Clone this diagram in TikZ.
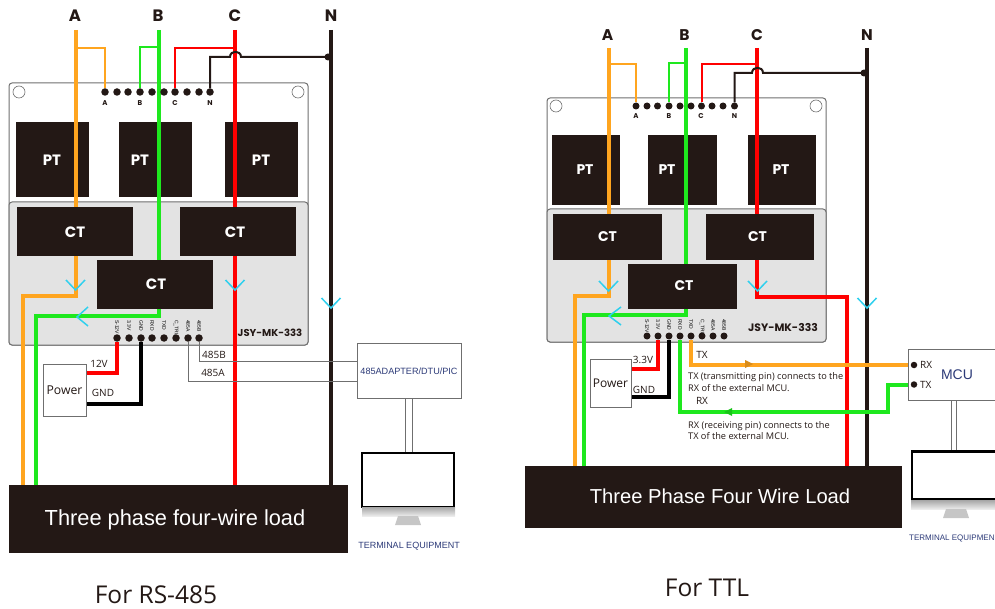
\documentclass[tikz,border=0pt]{standalone}
\usepackage{fontspec}
\setmainfont{Liberation Sans}
\newfontfamily\capfont{Open Sans}
\newfontfamily\labfont{Poppins}
\pgfdeclarelayer{back}
\pgfdeclarelayer{wire}
\pgfsetlayers{back,wire,main}
\definecolor{phaseA}{HTML}{FFA51F}
\definecolor{phaseB}{HTML}{1EE81E}
\definecolor{phaseC}{HTML}{FF0000}
\definecolor{ink}{HTML}{231815}
\definecolor{panel}{HTML}{E3E3E3}
\definecolor{edge}{HTML}{6F6F6F}
\definecolor{flow}{HTML}{2FD0EE}
\definecolor{navy}{HTML}{2C3A78}
\newcommand{\sz}[1]{\fontsize{#1}{#1}\selectfont}
\tikzset{
  blackbox/.style = {fill = ink, text = white, inner sep = 0pt, font = \labfont\sz{15}\bfseries},
  board/.style = {draw = edge, fill = white, rounded corners = 3pt, line width = 1pt},
  graybox/.style = {draw = edge, fill = panel, rounded corners = 3pt, line width = 1pt},
  hole/.style = {draw = edge, fill = white, circle, inner sep = 0pt, minimum size = 12pt, line width = .6pt},
  pindot/.style = {fill = ink, circle, inner sep = 0pt, minimum size = 7.5pt},
  pinlabel/.style = {inner sep = 0pt, anchor = west, rotate = -90, font = \sz{5}},
  toplabel/.style = {inner sep = 0pt, font = \labfont\sz{7}\bfseries, text = ink},
  phase/.style = {inner sep = 0pt, font = \labfont\sz{16.5}\bfseries, text = ink},
  thickwire/.style = {line width = 4pt, line join = miter},
  thinwire/.style = {line width = 2pt},
  signal/.style = {draw = edge, line width = .8pt},
  whitebox/.style = {draw = edge, fill = white, line width = 1pt, inner sep = 0pt},
  note/.style = {inner sep = 0pt, font = \capfont\sz{10}, text = ink},
  flowmark/.style = {draw = flow, line width = 1.5pt},
  screen/.style = {draw = black, fill = white, line width = 2.5pt, inner sep = 0pt},
  terminal/.style = {inner sep = 0pt, font = \sz{9}, text = navy},
  caption/.style = {inner sep = 0pt, font = \capfont\sz{24.5}, text = ink}
}
\begin{document}
\begin{tikzpicture}[x = 1pt, y = -1pt]
  \useasboundingbox (0,0) rectangle (995,609);
  \clip (0,0) rectangle (995,609);

  % RS-485 side
  \begin{pgfonlayer}{back}
    \node[board, minimum width = 299pt, minimum height = 262pt, inner sep = 0pt] (boardL) at (158.5,214) {};
    \node[graybox, minimum width = 299pt, minimum height = 143pt, inner sep = 0pt] (panelL) at (158.5,273.5) {};
    \node[hole] (holeLa) at (19,92) {};
    \node[hole] (holeLb) at (298,92) {};
    \node[blackbox, minimum width = 73pt, minimum height = 75pt] (ptLa) at (52,160) {};
    \node[blackbox, minimum width = 73pt, minimum height = 75pt] (ptLb) at (155.5,160) {};
    \node[blackbox, minimum width = 73pt, minimum height = 75pt] (ptLc) at (261,160) {};
  \end{pgfonlayer}
  \node[inner sep = 0pt, text = white, font = \labfont\sz{15}\bfseries] (ptLat) at (52,160) {PT};
  \node[inner sep = 0pt, text = white, font = \labfont\sz{15}\bfseries] (ptLbt) at (140,160) {PT};
  \node[inner sep = 0pt, text = white, font = \labfont\sz{15}\bfseries] (ptLct) at (261,160) {PT};
  \node[blackbox, minimum width = 116pt, minimum height = 49pt] (ctLa) at (75,232) {};
  \node[blackbox, minimum width = 116pt, minimum height = 49pt] (ctLb) at (155,284.5) {};
  \node[blackbox, minimum width = 116pt, minimum height = 49pt] (ctLc) at (238,232) {};
  \node[inner sep = 0pt, text = white, font = \labfont\sz{15}\bfseries] (ctLat) at (75,232) {CT};
  \node[inner sep = 0pt, text = white, font = \labfont\sz{15}\bfseries] (ctLbt) at (156,284.5) {CT};
  \node[inner sep = 0pt, text = white, font = \labfont\sz{15}\bfseries] (ctLct) at (235,232) {CT};
  \node[fill = ink, inner sep = 0pt, minimum width = 339pt, minimum height = 68pt] (loadL) at (178.5,519) {};
  \node[inner sep = 0pt, text = white, font = \sz{21.8}] (loadLt) at (175,520) {Three phase four-wire load};

  \node[phase] (nameLa) at (75,16) {A};
  \node[phase] (nameLb) at (158,16) {B};
  \node[phase] (nameLc) at (235,16) {C};
  \node[phase] (nameLn) at (331,16) {N};
  \foreach \x/\n in {105/1,117/2,128/3,140/4,152/5,164/6,175/7,187/8,199/9,210/10}
    \node[pindot] (topL\n) at (\x,92) {};
  \node[toplabel] (labLa) at (105,103) {A};
  \node[toplabel] (labLb) at (140,103) {B};
  \node[toplabel] (labLc) at (175,103) {C};
  \node[toplabel] (labLn) at (210,103) {N};
  \foreach \x/\n/\t in {117/1/S-12V,129/2/3.3V,141/3/GND,152/4/RXD,164/5/TXD,176/6/C\_TRL,188/7/485A,199/8/485B} {
    \node[pindot] (botL\n) at (\x,338) {};
    \node[pinlabel] (botLt\n) at (\x,320) {\t};
  }
  \node[inner sep = 0pt, text = ink, font = \labfont\sz{10}\bfseries] (modelL) at (270,333) {JSY-MK-333};

  \node[whitebox, minimum width = 43pt, minimum height = 52pt, font = \capfont\sz{12.2}, text = ink] (powerL) at (64.5,390) {Power};
  \node[note] (l12) at (99,364) {12V};
  \node[note] (lgnd) at (103,392.5) {GND};
  \node[note] (l485b) at (214,355) {485B};
  \node[note] (l485a) at (213,373) {485A};
  \node[whitebox, minimum width = 104pt, minimum height = 55pt, font = \sz{9.1}, text = navy] (adapter) at (409,371) {485ADAPTER/DTU/PIC};
  \node[screen, minimum width = 92pt, minimum height = 54pt] (screenL) at (408,480) {};
  \fill[top color = gray!70, bottom color = gray!15] (362,507) rectangle (455,516);
  \fill[gray!45] (398,516) -- (418,516) -- (421,525) -- (395,525) -- cycle;
  \node[terminal] (termL) at (409,546) {TERMINAL EQUIPMENT};
  \node[caption] (capL) at (156,595) {For RS-485};

  \coordinate (topLa) at (75.5,30);
  \coordinate (topLb) at (158.5,30);
  \coordinate (topLc) at (235,30);
  \coordinate (topLn) at (331,30);
  \coordinate (tapLa) at (75.5,48);
  \coordinate (tapLb) at (158.5,47);
  \coordinate (tapLc) at (235,48);
  \coordinate (tapLn) at (331,57);
  \coordinate (hopLa) at (241,57);
  \coordinate (hopLb) at (230,57);
  \coordinate (bendLa) at (75.5,296);
  \coordinate (bendLb) at (158.5,316);
  \coordinate (endLa) at (23,486);
  \coordinate (endLb) at (36,486);
  \coordinate (endLc) at (235,486);
  \coordinate (endLn) at (331,486);
  \node[fill = ink, circle, inner sep = 0pt, minimum size = 7pt] (nodeLn) at (328,57) {};

  \begin{pgfonlayer}{wire}
    \draw[thickwire, phaseA] (topLa) -- (bendLa) -| (endLa);
    \draw[thickwire, phaseB] (topLb) -- (bendLb) -| (endLb);
    \draw[thickwire, phaseC] (topLc) -- (endLc);
    \draw[thickwire, ink] (topLn) -- (endLn);
    \draw[thinwire, phaseA] (tapLa) -| (topL1);
    \draw[thinwire, phaseB] (tapLb) -| (topL4);
    \draw[thinwire, phaseC] (tapLc) -| (topL7);
    \draw[thinwire, ink] (tapLn) -- (hopLa) .. controls +(0,-7) and +(0,-7) .. (hopLb) -| (topL10);
    \draw[thickwire, phaseC] (botL1) |- (powerL.east |- 0,372.5);
    \draw[thickwire, black] (botL3) |- (powerL.east |- 0,404);
    \draw[signal] (botL7) |- (adapter.west |- 0,381);
    \draw[signal] (botL8) |- (adapter.west |- 0,361);
    \draw[signal] ([xshift = -3.5pt]adapter.south) -- ([xshift = -3.5pt]adapter.south |- screenL.north);
    \draw[signal] ([xshift = 3pt]adapter.south) -- ([xshift = 3pt]adapter.south |- screenL.north);
  \end{pgfonlayer}

  % TTL side
  \begin{pgfonlayer}{back}
    \node[board, minimum width = 279pt, minimum height = 244pt, inner sep = 0pt] (boardR) at (686.5,220) {};
    \node[graybox, minimum width = 279pt, minimum height = 133pt, inner sep = 0pt] (panelR) at (686.5,275.5) {};
    \node[hole] (holeRa) at (556,106) {};
    \node[hole] (holeRb) at (816,106) {};
    \node[blackbox, minimum width = 68.5pt, minimum height = 70pt] (ptRa) at (586,170) {};
    \node[blackbox, minimum width = 68.5pt, minimum height = 70pt] (ptRb) at (682.5,170) {};
    \node[blackbox, minimum width = 68.5pt, minimum height = 70pt] (ptRc) at (782,170) {};
  \end{pgfonlayer}
  \node[inner sep = 0pt, text = white, font = \labfont\sz{14}\bfseries] (ptRat) at (585,170) {PT};
  \node[inner sep = 0pt, text = white, font = \labfont\sz{14}\bfseries] (ptRbt) at (667,170) {PT};
  \node[inner sep = 0pt, text = white, font = \labfont\sz{14}\bfseries] (ptRct) at (781,170) {PT};
  \node[blackbox, minimum width = 109pt, minimum height = 46pt] (ctRa) at (607.5,237) {};
  \node[blackbox, minimum width = 109pt, minimum height = 45pt] (ctRb) at (682.5,286.5) {};
  \node[blackbox, minimum width = 108pt, minimum height = 46pt] (ctRc) at (760,237) {};
  \node[inner sep = 0pt, text = white, font = \labfont\sz{14}\bfseries] (ctRat) at (607.5,237) {CT};
  \node[inner sep = 0pt, text = white, font = \labfont\sz{14}\bfseries] (ctRbt) at (684,286) {CT};
  \node[inner sep = 0pt, text = white, font = \labfont\sz{14}\bfseries] (ctRct) at (757.5,237) {CT};
  \node[fill = ink, inner sep = 0pt, minimum width = 377pt, minimum height = 62pt] (loadR) at (713.5,497) {};
  \node[inner sep = 0pt, text = white, font = \sz{20.2}] (loadRt) at (720,496) {Three Phase Four Wire Load};

  \node[phase, font = \labfont\sz{15.5}\bfseries] (nameRa) at (607.5,35) {A};
  \node[phase, font = \labfont\sz{15.5}\bfseries] (nameRb) at (684.5,35) {B};
  \node[phase, font = \labfont\sz{15.5}\bfseries] (nameRc) at (757,35) {C};
  \node[phase, font = \labfont\sz{15.5}\bfseries] (nameRn) at (867,35) {N};
  \foreach \x/\n in {636/1,647/2,657.5/3,669/4,680/5,691/6,701.5/7,712/8,723/9,734.5/10}
    \node[pindot, minimum size = 7pt] (topR\n) at (\x,106) {};
  \node[toplabel] (labRa) at (636,116) {A};
  \node[toplabel] (labRb) at (669,116) {B};
  \node[toplabel] (labRc) at (701,116) {C};
  \node[toplabel] (labRn) at (734.5,116) {N};
  \foreach \x/\n/\t in {647/1/S-12V,658/2/3.3V,669/3/GND,680/4/RXD,691/5/TXD,702/6/C\_TRL,713/7/485A,724/8/485B} {
    \node[pindot, minimum size = 7pt] (botR\n) at (\x,336) {};
    \node[pinlabel] (botRt\n) at (\x,319) {\t};
  }
  \node[inner sep = 0pt, text = ink, font = \labfont\sz{10.8}\bfseries] (modelR) at (783,328) {JSY-MK-333};

  \node[whitebox, minimum width = 41pt, minimum height = 48pt, font = \capfont\sz{12}, text = ink] (powerR) at (610.5,383) {Power};
  \node[note] (l33) at (643,360) {3.3V};
  \node[note] (rgnd) at (644,389.5) {GND};
  \node[note] (ltx) at (702,355) {TX};
  \node[note] (lrx) at (702,401) {RX};
  \node[note, anchor = west, align = left, font = \capfont\fontsize{9.2}{11.5}\selectfont] (notetx) at (688,382) {TX (transmitting pin) connects to the\\RX of the external MCU.};
  \node[note, anchor = west, align = left, font = \capfont\fontsize{9.2}{11.5}\selectfont] (noterx) at (688,430.5) {RX (receiving pin) connects to the\\TX of the external MCU.};
  \node[whitebox, minimum width = 98pt, minimum height = 51pt, font = \sz{14}, text = navy] (mcu) at (957,374.5) {MCU};
  \node[fill = ink, circle, inner sep = 0pt, minimum size = 6.5pt] (mcurx) at (914,365) {};
  \node[fill = ink, circle, inner sep = 0pt, minimum size = 6.5pt] (mcutx) at (914,384.5) {};
  \node[note, anchor = west] (lmrx) at (920,365) {RX};
  \node[note, anchor = west] (lmtx) at (920,385) {TX};
  \node[screen, minimum width = 92pt, minimum height = 48pt] (screenR) at (958,475.5) {};
  \fill[top color = gray!70, bottom color = gray!15] (911,500) rectangle (995,509);
  \fill[gray!45] (946,509) -- (966,509) -- (969,518) -- (943,518) -- cycle;
  \node[terminal, anchor = west, font = \sz{8}] (termR) at (909,538) {TERMINAL EQUIPMEN};
  \node[caption] (capR) at (707,588) {For TTL};

  \coordinate (topRa) at (608.5,48);
  \coordinate (topRb) at (685.5,48);
  \coordinate (topRc) at (757,48);
  \coordinate (topRn) at (867,48);
  \coordinate (tapRa) at (608.5,64);
  \coordinate (tapRb) at (685.5,63);
  \coordinate (tapRc) at (757,64);
  \coordinate (tapRn) at (867,73);
  \coordinate (hopRa) at (763,73);
  \coordinate (hopRb) at (752,73);
  \coordinate (bendRa) at (608.5,296);
  \coordinate (bendRb) at (685.5,315);
  \coordinate (bendRc) at (757,297);
  \coordinate (endRa) at (575,467);
  \coordinate (endRb) at (584,467);
  \coordinate (endRc) at (847,467);
  \coordinate (endRn) at (867,467);
  \coordinate (stepRa) at (888,412);
  \node[fill = ink, circle, inner sep = 0pt, minimum size = 7pt] (nodeRn) at (864,73) {};

  \begin{pgfonlayer}{wire}
    \draw[thickwire, phaseA] (topRa) -- (bendRa) -| (endRa);
    \draw[thickwire, phaseB] (topRb) -- (bendRb) -| (endRb);
    \draw[thickwire, phaseC] (topRc) -- (bendRc) -| (endRc);
    \draw[thickwire, ink] (topRn) -- (endRn);
    \draw[thinwire, phaseA] (tapRa) -| (topR1);
    \draw[thinwire, phaseB] (tapRb) -| (topR4);
    \draw[thinwire, phaseC] (tapRc) -| (topR7);
    \draw[thinwire, ink] (tapRn) -- (hopRa) .. controls +(0,-7) and +(0,-7) .. (hopRb) -| (topR10);
    \draw[thickwire, phaseC] (botR2) |- (powerR.east |- 0,369);
    \draw[thickwire, black] (botR3) |- (powerR.east |- 0,397);
    \draw[thickwire, phaseB] (botR4) |- (stepRa) |- (mcutx);
    \draw[thickwire, phaseA] (botR5) |- (mcurx);
    \draw[signal] ([xshift = -6pt]mcu.south) -- ([xshift = -6pt]mcu.south |- screenR.north);
    \draw[signal] ([xshift = -1pt]mcu.south) -- ([xshift = -1pt]mcu.south |- screenR.north);
  \end{pgfonlayer}

  % flow marks
  \foreach \x/\y in {75.5/290,235/290,331/308,608.5/291,757.5/291,867/308}
    \draw[flowmark] (\x-9.5,\y-10) -- (\x,\y) -- (\x+9.5,\y-10);
  \draw[flowmark] (88,307) -- (77,317) -- (88,326);
  \draw[flowmark] (621,307) -- (609,316) -- (621,325);
  \fill[phaseA!85!black] (745,360) -- (753,364) -- (745,368) -- cycle;
  \fill[phaseB!85!black] (732,408) -- (724,412) -- (732,416) -- cycle;
\end{tikzpicture}
\end{document}
